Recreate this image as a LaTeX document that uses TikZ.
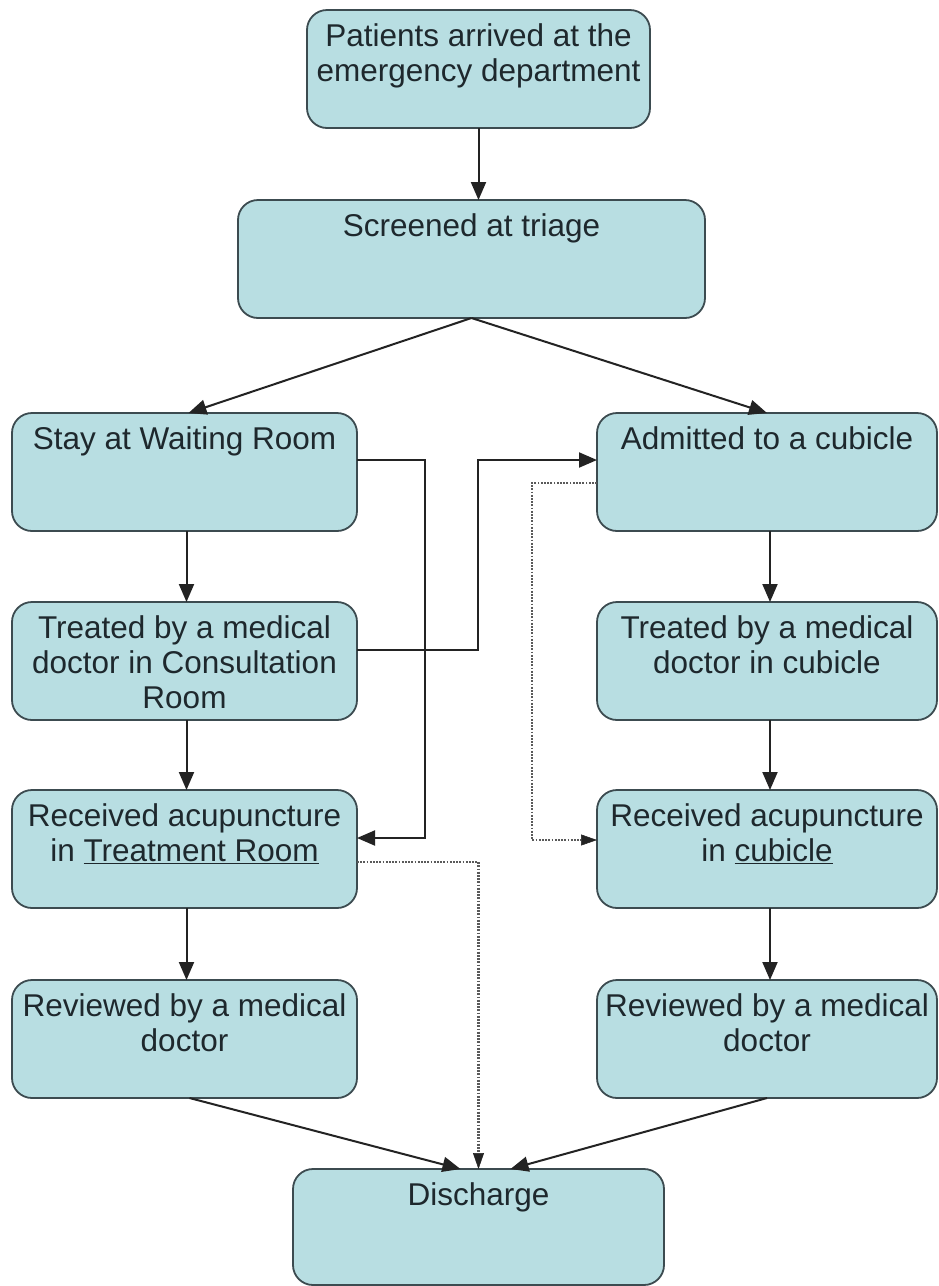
\documentclass[tikz,border=0pt]{standalone}
\usepackage{fontspec}
\setmainfont{Liberation Sans}
\usetikzlibrary{arrows.meta,calc}
\definecolor{boxfill}{RGB}{184,222,226}
\definecolor{boxline}{RGB}{60,75,80}
\definecolor{txt}{RGB}{30,40,45}
\definecolor{conn}{RGB}{35,35,35}
\definecolor{dotc}{RGB}{90,90,90}
\tikzset{
  box/.style={draw=boxline, fill=boxfill, line width=1.8pt, rounded corners=20pt, outer sep=0pt, inner sep=0pt},
  lbl/.style={anchor=north, inner sep=0pt, align=center, text=txt, font=\fontsize{31.5}{35}\selectfont},
  arr/.style={draw=conn, line width=2pt, -{Triangle[length=18pt,width=15pt]}},
  dotarr/.style={draw=dotc, line width=2.2pt, dash pattern=on 1.8pt off 1.4pt, -{Triangle[length=16pt,width=11pt,color=conn,fill=conn,line width=0.5pt]}}
}
\begin{document}
\begin{tikzpicture}[x=1pt,y=-1pt]
\path[fill=white] (0,0) rectangle (938,1286);
\useasboundingbox (0,0) rectangle (938,1286);
% boxes
\node[box, minimum width=343pt, minimum height=118pt] (b1) at (478.5,69) {};
\node[box, minimum width=467pt, minimum height=118pt] (b2) at (471.5,259) {};
\node[box, minimum width=345pt, minimum height=118pt] (L1) at (184.5,472) {};
\node[box, minimum width=345pt, minimum height=118pt] (L2) at (184.5,661) {};
\node[box, minimum width=345pt, minimum height=118pt] (L3) at (184.5,849) {};
\node[box, minimum width=345pt, minimum height=118pt] (L4) at (184.5,1039) {};
\node[box, minimum width=340pt, minimum height=118pt] (R1) at (767,472) {};
\node[box, minimum width=340pt, minimum height=118pt] (R2) at (767,661) {};
\node[box, minimum width=340pt, minimum height=118pt] (R3) at (767,849) {};
\node[box, minimum width=340pt, minimum height=118pt] (R4) at (767,1039) {};
\node[box, minimum width=371pt, minimum height=116pt] (D) at (478.5,1227) {};
% labels
\node[lbl] (t1) at ($(b1.north)+(0,11.5)$) {\strut Patients arrived at the\\emergency department};
\node[lbl] (t2) at ($(b2.north)+(0,11.5)$) {\strut Screened at triage};
\node[lbl] (tL1) at ($(L1.north)+(0,11.5)$) {\strut Stay at Waiting Room};
\node[lbl] (tL2) at ($(L2.north)+(0,11.5)$) {\strut Treated by a medical\\doctor in Consultation\\Room};
\node[lbl] (tL3) at ($(L3.north)+(0,11.5)$) {\strut Received acupuncture\\in \underline{Treatment Room}};
\node[lbl] (tL4) at ($(L4.north)+(0,11.5)$) {\strut Reviewed by a medical\\doctor};
\node[lbl] (tR1) at ($(R1.north)+(0,11.5)$) {\strut Admitted to a cubicle};
\node[lbl] (tR2) at ($(R2.north)+(0,11.5)$) {\strut Treated by a medical\\doctor in cubicle};
\node[lbl] (tR3) at ($(R3.north)+(0,11.5)$) {\strut Received acupuncture\\in \underline{cubicle}};
\node[lbl] (tR4) at ($(R4.north)+(0,11.5)$) {\strut Reviewed by a medical\\doctor};
\node[lbl] (tD) at ($(D.north)+(0,11.5)$) {\strut Discharge};
% connectors
\draw[arr] (b1.south) -- (b1.south |- b2.north);
\draw[arr] (b2.south) -- ([xshift=4pt]L1.north);
\draw[arr] (b2.south) -- (R1.north);
\draw[arr] ([xshift=2pt]L1.south) -- ([xshift=2pt]L2.north);
\draw[arr] ([xshift=2pt]L2.south) -- ([xshift=2pt]L3.north);
\draw[arr] ([xshift=2pt]L3.south) -- ([xshift=2pt]L4.north);
\draw[arr] ([xshift=3pt]R1.south) -- ([xshift=3pt]R2.north);
\draw[arr] ([xshift=3pt]R2.south) -- ([xshift=3pt]R3.north);
\draw[arr] ([xshift=3pt]R3.south) -- ([xshift=3pt]R4.north);
\draw[arr] ([yshift=12pt]L1.east) -- ++(68,0) |- ([yshift=11pt]L3.east);
\draw[arr] ([yshift=11pt]L2.east) -- ++(121,0) |- ([yshift=12pt]R1.west);
\draw[dotarr] ([yshift=-11pt]R1.west) -- ++(-65,0) |- ([yshift=9pt]R3.west);
\draw[dotarr] ([yshift=-13pt]L3.east) -| (D.north);
\draw[arr] ([xshift=5pt]L4.south) -- ([xshift=-18pt]D.north);
\draw[arr] (R4.south) -- ([xshift=32pt]D.north);
\end{tikzpicture}
\end{document}
